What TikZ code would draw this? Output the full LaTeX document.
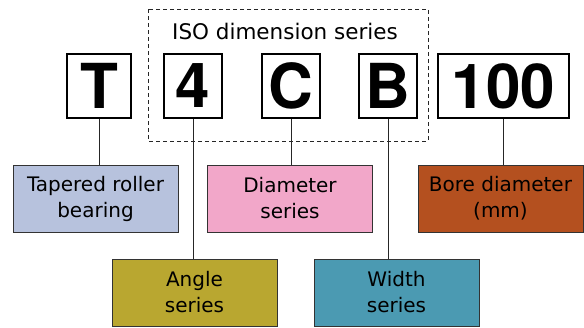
\documentclass[tikz,border=0pt]{standalone}
\usepackage{fontspec}
\setmainfont{TeX Gyre Heros}
\newfontfamily\labelfont{DejaVu Sans}
\usetikzlibrary{positioning}
\definecolor{bearingblue}{HTML}{B7C2DD}
\definecolor{diampink}{HTML}{F2A7C9}
\definecolor{borebrown}{HTML}{B4501F}
\definecolor{angleolive}{HTML}{B9A730}
\definecolor{widthteal}{HTML}{4B9AB2}
\tikzstyle{letterbox} = [
	rectangle,
	minimum height=64pt,
	inner sep=0pt,
	text centered,
	draw=black,
	line width=1.1pt,
	font=\fontsize{62}{62}\selectfont\bfseries,
]
\tikzstyle{labelbox} = [
	rectangle,
	minimum width=165pt,
	minimum height=67pt,
	inner sep=0pt,
	align=center,
	draw=black!80,
	line width=0.8pt,
	font=\labelfont\fontsize{20}{26}\selectfont,
]
\tikzstyle{line} = [black!85, line width=0.8pt]

\begin{document}
\begin{tikzpicture}[x=1pt, y=-1pt]
		\useasboundingbox (0,0) rectangle (584,327);

		% letters of the designation
		\node (T) [letterbox, minimum width=64pt] at (99,86) {T};
		\node (angle) [letterbox, minimum width=58pt] at (193,86) {4};
		\node (diam) [letterbox, minimum width=58pt] at (291,86) {C};
		\node (width) [letterbox, minimum width=58pt] at (388,86) {B};
		\node (bore) [letterbox, minimum width=131pt] at (503.5,86) {100};

		% ISO dimension series frame
		\draw [line, dash pattern=on 4pt off 3pt] (148,9) rectangle (428,141);
		\node (iso) [font=\labelfont\fontsize{21.5}{22}\selectfont] at (285,31) {ISO dimension series};

		% explanations
		\node (tapered) [labelbox, fill=bearingblue] at (95.5,198.5) {Tapered roller\\bearing};
		\node (diamser) [labelbox, fill=diampink] at (290,198.5) {Diameter\\series};
		\node (boredia) [labelbox, fill=borebrown] at (500.5,198.5) {Bore diameter\\(mm)};
		\node (angleser) [labelbox, fill=angleolive] at (194.5,292.5) {Angle\\series};
		\node (widthser) [labelbox, fill=widthteal] at (396.5,292.5) {Width\\series};

		\draw [line] (T.south) -- (T.south |- tapered.north);
		\draw [line] (angle.south) -- (angle.south |- angleser.north);
		\draw [line] (diam.south) -- (diam.south |- diamser.north);
		\draw [line] (width.south) -- (width.south |- widthser.north);
		\draw [line] (bore.south) -- (bore.south |- boredia.north);
	\end{tikzpicture}
\end{document}
